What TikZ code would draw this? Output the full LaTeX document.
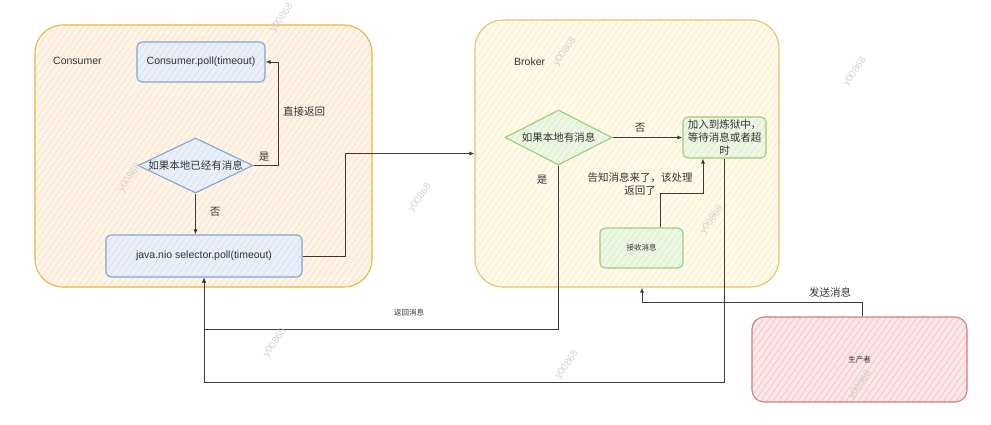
\documentclass[tikz,border=0pt]{standalone}
\usepackage{fontspec}
\setmainfont{Liberation Sans}
\newfontfamily\cjk{Noto Sans CJK SC}
\usetikzlibrary{shapes.geometric,arrows.meta,patterns.meta}
\definecolor{consFill}{HTML}{FFF4E8}
\definecolor{consHatch}{HTML}{FCE3C8}
\definecolor{consLine}{HTML}{E6B443}
\definecolor{brokFill}{HTML}{FFFAEA}
\definecolor{brokHatch}{HTML}{FAEFCB}
\definecolor{brokLine}{HTML}{E3C46C}
\definecolor{blueFill}{HTML}{EBF0F8}
\definecolor{blueHatch}{HTML}{D6E1F1}
\definecolor{blueLine}{HTML}{7FA5D6}
\definecolor{greenFill}{HTML}{EEF7E6}
\definecolor{greenHatch}{HTML}{D9EEC8}
\definecolor{greenLine}{HTML}{9ACD7C}
\definecolor{redFill}{HTML}{FCE8E8}
\definecolor{redHatch}{HTML}{F5C4C4}
\definecolor{redLine}{HTML}{D47A7A}
\definecolor{txtc}{HTML}{333333}
\definecolor{lineC}{HTML}{3A3A3A}
\definecolor{wmC}{HTML}{C8C8C8}
\tikzset{
  hatched/.style={preaction={fill=#1Fill},
    pattern={Lines[angle=55,distance=5pt,line width=0.8pt]}, pattern color=#1Hatch,
    draw=#1Line, line width=1.1pt},
  container/.style={hatched=#1, rectangle, rounded corners=28pt, inner sep=0pt},
  box/.style={hatched=#1, rectangle, rounded corners=5pt, inner sep=0pt},
  dia/.style={hatched=#1, diamond, inner sep=0pt},
  lbl/.style={text=txtc, font=\cjk\fontsize{10.5}{13}\selectfont, inner sep=0pt},
  small/.style={text=txtc, font=\cjk\fontsize{7.5}{9}\selectfont, inner sep=0pt},
  arr/.style={draw=lineC, line width=0.9pt, -{Latex[length=5pt,width=4pt]}},
  wm/.style={text=wmC, font=\fontsize{10}{12}\selectfont, rotate=55, inner sep=0pt, opacity=0.8}
}
\begin{document}
\begin{tikzpicture}[x=1pt,y=-1pt, font=\fontsize{10.5}{13}\selectfont]
\useasboundingbox (0,0) rectangle (991,424);
% containers
\node[container=cons, minimum width=337pt, minimum height=262pt] (consumer) at (203.5,156) {};
\node[container=brok, minimum width=304pt, minimum height=267pt] (broker) at (627,153.5) {};
\node[text=txtc, anchor=west, inner sep=0pt] (consumerlbl) at (53,61) {Consumer};
\node[text=txtc, anchor=west, inner sep=0pt] (brokerlbl) at (514,62) {Broker};
% consumer side
\node[box=blue, minimum width=128pt, minimum height=40pt, text=txtc] (cpoll) at (201,62) {Consumer.poll(timeout)};
\node[dia=blue, minimum width=115pt, minimum height=55pt, label={[lbl]center:如果本地已经有消息}] (cdia) at (195.5,165.5) {};
\node[box=blue, minimum width=196pt, minimum height=42pt, text=txtc] (java) at (204,256) {java.nio selector.poll(timeout)};
% broker side
\node[dia=green, minimum width=107pt, minimum height=55pt, label={[lbl]center:如果本地有消息}] (bdia) at (558.5,137.5) {};
\node[box=green, minimum width=83pt, minimum height=41pt, align=center, lbl] (purg) at (724.5,137.5) {加入到炼狱中，\\等待消息或者超\\时};
\node[box=green, minimum width=83pt, minimum height=40pt, small] (recv) at (641.5,248) {接收消息};
% producer
\node[box=red, rounded corners=12pt, minimum width=215pt, minimum height=85pt, small] (prod) at (859.5,359.5) {生产者};
% connectors
\coordinate (k1) at (278,62);
\draw[arr] (cdia.east) -| (k1) -- (cpoll.east);
\draw[arr] (cdia.south) -- (cdia.south |- java.north);
\coordinate (k2) at (345,153.5);
\draw[arr] (java.east) -| (k2) -- (broker.west);
\draw[arr] (bdia.east) -- (purg.west);
\coordinate (k3) at (204,329);
\draw[arr] (bdia.south) |- (k3) -- (java.south);
\coordinate (k4) at (204,382);
\draw[arr] (purg.south) |- (k4) -- (java.south);
\coordinate (k6) at (660,193);
\coordinate (k5) at (703,193);
\draw[arr] (recv.north -| k6) -- (k6) -- (k5) -- (k5 |- purg.south);
\coordinate (k7) at (862,302);
\coordinate (k8) at (642,302);
\draw[arr] (prod.north -| k7) -- (k7) -- (k8) -- (k8 |- broker.south);
% labels
\node[lbl] (l1) at (264,157) {是};
\node[lbl] (l2) at (304,112) {直接返回};
\node[lbl] (l3) at (215,212) {否};
\node[lbl] (l4) at (640,128) {否};
\node[lbl] (l5) at (542,180) {是};
\node[lbl, align=center] (l6) at (640,183.5) {告知消息来了，该处理\\返回了};
\node[small] (l7) at (409,313) {返回消息};
\node[lbl] (l8) at (830,292) {发送消息};
% watermarks
\foreach \px/\py [count=\i] in {282/18, 130/178, 565/52, 855/72, 712/220, 420/198, 275/343, 567/365, 860/385}
  \node[wm] (wm\i) at (\px,\py) {y00868};
\end{tikzpicture}
\end{document}
